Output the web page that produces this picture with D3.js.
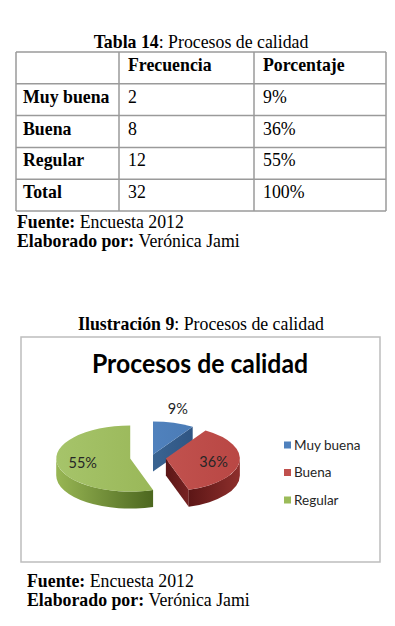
<!DOCTYPE html>
<html>
<head>
<meta charset="utf-8">
<script src="https://cdn.jsdelivr.net/npm/d3@7"></script>
<style>
  html, body { margin: 0; padding: 0; background: #fff; }
  svg { display: block; }
  .serif { font-family: "Liberation Serif", "Times New Roman", serif; font-size: 17.8px; fill: #000; }
  .sans { font-family: Lato, "Open Sans", sans-serif; }
</style>
</head>
<body>
<svg id="page" width="395" height="626"></svg>
<script>
// data from the table / chart
const categories = ['Muy buena', 'Buena', 'Regular'];
const frequencies = [2, 8, 12];
const percents = [9, 36, 55];
const totalRow = ['Total', '32', '100%'];
const headers = ['', 'Frecuencia', 'Porcentaje'];
const colors = ['#4f81bd', '#c0504d', '#9bbb59'];

const svg = d3.select('#page');

// ---- Table ----
const colEdges = [16, 119, 254, 386];
const rowKeys = ['head', ...categories, 'Total'];
const yRow = d3.scaleBand().domain(rowKeys).range([52, 211]);

svg.append('text').attr('class', 'serif')
  .attr('x', 201).attr('y', 48).attr('text-anchor', 'middle')
  .call(t => {
    t.append('tspan').attr('font-weight', 'bold').text('Tabla 14');
    t.append('tspan').text(': Procesos de calidad');
  });

const gT = svg.append('g');
const rows = [headers,
  ...categories.map((c, i) => [c, String(frequencies[i]), percents[i] + '%']),
  totalRow];

rows.forEach((r, ri) => {
  const y0 = yRow(rowKeys[ri]);
  r.forEach((cell, ci) => {
    if (!cell) return;
    gT.append('text').attr('class', 'serif')
      .attr('x', colEdges[ci] + (ci === 0 ? 7 : 9))
      .attr('y', y0 + 19)
      .attr('font-weight', (ri === 0 || ci === 0) ? 'bold' : 'normal')
      .text(cell);
  });
});

// grid lines
const gridC = '#9a9a9a';
rowKeys.forEach(k => {
  gT.append('line').attr('x1', colEdges[0]).attr('x2', colEdges[3])
    .attr('y1', yRow(k)).attr('y2', yRow(k))
    .attr('stroke', gridC).attr('stroke-width', 1.5);
});
gT.append('line').attr('x1', colEdges[0]).attr('x2', colEdges[3])
  .attr('y1', 211).attr('y2', 211).attr('stroke', gridC).attr('stroke-width', 1.5);
colEdges.forEach(x => {
  gT.append('line').attr('x1', x).attr('x2', x).attr('y1', 52).attr('y2', 211)
    .attr('stroke', gridC).attr('stroke-width', 1.5);
});

function source(y, x) {
  svg.append('text').attr('class', 'serif').attr('x', x).attr('y', y)
    .call(t => {
      t.append('tspan').attr('font-weight', 'bold').text('Fuente: ');
      t.append('tspan').text('Encuesta 2012');
    });
  svg.append('text').attr('class', 'serif').attr('x', x).attr('y', y + 19)
    .call(t => {
      t.append('tspan').attr('font-weight', 'bold').text('Elaborado por: ');
      t.append('tspan').text('Verónica Jami');
    });
}
source(228, 17);

// ---- Illustration ----
svg.append('text').attr('class', 'serif')
  .attr('x', 201).attr('y', 330).attr('text-anchor', 'middle')
  .call(t => {
    t.append('tspan').attr('font-weight', 'bold').text('Ilustración 9');
    t.append('tspan').text(': Procesos de calidad');
  });

svg.append('rect').attr('x', 21).attr('y', 337).attr('width', 359).attr('height', 225)
  .attr('fill', '#fff').attr('stroke', '#bdbdbd').attr('stroke-width', 1.5);

svg.append('text').attr('class', 'sans')
  .attr('x', 200).attr('y', 373).attr('text-anchor', 'middle')
  .attr('font-size', 26).attr('font-weight', 'bold').attr('fill', '#000')
  .attr('textLength', 216).attr('lengthAdjust', 'spacingAndGlyphs')
  .text('Procesos de calidad');

// 3D pie
const cx = 148, cy = 458, rx = 74, ry = 33, depth = 17, explode = 18;
const pie = d3.pie().sort(null).value(d => d);
const arcs = pie(percents);

const defs = svg.append('defs');
const shade = [
  { top: ['#5a8dca', '#4676b0'], rim: ['#3d6797', '#2e5078'], cut: ['#3a6492', '#2f5583'] },
  { top: ['#c95c58', '#b94744'], rim: ['#5c1616', '#8e2f2c'], cut: ['#5a1616', '#782323'] },
  { top: ['#a6c46a', '#93b150'], rim: ['#98b654', '#4c671f'], cut: ['#6f8d35', '#4f6a22'] }
];
function grad(id, c, x1, x2) {
  const g = defs.append('linearGradient').attr('id', id)
    .attr('gradientUnits', 'userSpaceOnUse')
    .attr('x1', x1).attr('x2', x2).attr('y1', 0).attr('y2', 0);
  g.append('stop').attr('offset', 0).attr('stop-color', c[0]);
  g.append('stop').attr('offset', 1).attr('stop-color', c[1]);
  return `url(#${id})`;
}

const gPie = svg.append('g');
const fmt = n => n.toFixed(2);

arcs.forEach((a, i) => {
  const m = (a.startAngle + a.endAngle) / 2;
  const px = cx + explode * Math.sin(m);
  const py = cy - explode * 0.2 * Math.cos(m);
  const pt = (th, dz = 0) => [px + rx * Math.sin(th), py - ry * Math.cos(th) + dz];
  const sh = shade[i];
  const left = px - rx, right = px + rx;

  // cut walls facing the viewer
  [[a.startAngle, -1], [a.endAngle, 1]].forEach(([th, side]) => {
    const s = Math.sin(th) * side;
    if (s <= 0.01) return;
    const p = pt(th), q = pt(th, depth);
    gPie.append('path')
      .attr('d', `M${fmt(px)},${fmt(py)}L${fmt(p[0])},${fmt(p[1])}L${fmt(q[0])},${fmt(q[1])}L${fmt(px)},${fmt(py + depth)}Z`)
      .attr('fill', grad(`cut${i}${side}`, sh.cut, Math.min(px, p[0]), Math.max(px, p[0])));
  });

  // outer rim wall (front half only)
  const s0 = Math.max(a.startAngle, Math.PI / 2);
  const s1 = Math.min(a.endAngle, Math.PI * 1.5);
  if (s1 > s0) {
    const A = pt(s0), B = pt(s1), C = pt(s1, depth), D = pt(s0, depth);
    const large = (s1 - s0) > Math.PI ? 1 : 0;
    gPie.append('path')
      .attr('d', `M${fmt(A[0])},${fmt(A[1])}A${rx},${ry} 0 ${large} 1 ${fmt(B[0])},${fmt(B[1])}` +
        `L${fmt(C[0])},${fmt(C[1])}A${rx},${ry} 0 ${large} 0 ${fmt(D[0])},${fmt(D[1])}Z`)
      .attr('fill', grad(`rim${i}`, sh.rim, Math.min(A[0], B[0]), Math.max(A[0], B[0])));
  }

  // top face
  const P0 = pt(a.startAngle), P1 = pt(a.endAngle);
  const large = (a.endAngle - a.startAngle) > Math.PI ? 1 : 0;
  gPie.append('path')
    .attr('d', `M${fmt(px)},${fmt(py)}L${fmt(P0[0])},${fmt(P0[1])}A${rx},${ry} 0 ${large} 1 ${fmt(P1[0])},${fmt(P1[1])}Z`)
    .attr('fill', grad(`top${i}`, sh.top, left, right));

  // label
  const inside = a.data >= 10;
  const f = inside ? 0.65 : 1.2;
  const lx = px + rx * f * Math.sin(m);
  const ly = py - ry * f * Math.cos(m) + (inside ? 1 : -8);
  gPie.append('text').attr('class', 'sans')
    .attr('x', lx).attr('y', ly).attr('dy', '0.35em')
    .attr('text-anchor', 'middle').attr('font-size', 14.5).attr('fill', '#262626')
    .text(a.data + '%');
});

// legend
const yLeg = d3.scalePoint().domain(categories).range([445, 500]);
const gL = svg.append('g');
categories.forEach((c, i) => {
  gL.append('rect').attr('x', 284).attr('y', yLeg(c) - 3.5).attr('width', 7).attr('height', 7)
    .attr('fill', colors[i]);
  gL.append('text').attr('class', 'sans')
    .attr('x', 294).attr('y', yLeg(c)).attr('dy', '0.36em')
    .attr('font-size', 13.5).attr('fill', '#262626').text(c);
});

source(587, 27);
</script>
</body>
</html>
